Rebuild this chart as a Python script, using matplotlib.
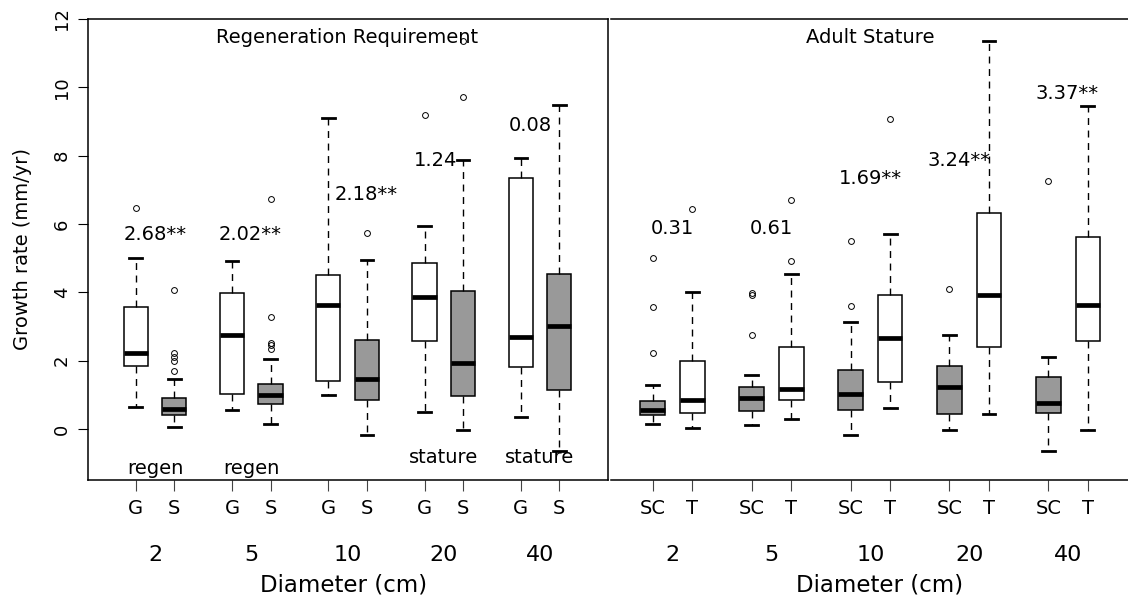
import matplotlib.pyplot as plt

# diameter classes (cm)
diam = ["2", "5", "10", "20", "40"]

# Regeneration requirement: G (white) and S (grey)
g_med = [2.23, 2.75, 3.62, 3.86, 2.69]
g_q1 = [1.86, 1.02, 1.40, 2.58, 1.82]
g_q3 = [3.56, 3.97, 4.50, 4.85, 7.34]
g_lo = [0.64, 0.57, 1.00, 0.50, 0.34]
g_hi = [5.01, 4.92, 9.09, 5.95, 7.94]
g_out = [[6.47], [], [], [9.18], []]

s_med = [0.60, 1.01, 1.47, 1.94, 3.02]
s_q1 = [0.42, 0.73, 0.85, 0.98, 1.14]
s_q3 = [0.91, 1.32, 2.60, 4.04, 4.53]
s_lo = [0.05, 0.15, -0.18, -0.03, -0.63]
s_hi = [1.47, 2.06, 4.95, 7.86, 9.47]
s_out = [[4.06, 2.24, 2.12, 1.99, 1.71], [6.73, 3.29, 2.53, 2.45, 2.34],
         [5.73], [11.36, 9.73], []]

# Adult stature: SC (grey) and T (white)
sc_med = [0.57, 0.92, 1.04, 1.22, 0.77]
sc_q1 = [0.40, 0.53, 0.55, 0.45, 0.47]
sc_q3 = [0.82, 1.22, 1.73, 1.84, 1.53]
sc_lo = [0.16, 0.13, -0.18, -0.03, -0.65]
sc_hi = [1.30, 1.59, 3.13, 2.76, 2.12]
sc_out = [[5.02, 3.56, 2.24], [3.98, 3.91, 2.76], [5.50, 3.61], [4.11], [7.25]]

t_med = [0.86, 1.16, 2.66, 3.93, 3.63]
t_q1 = [0.46, 0.86, 1.38, 2.39, 2.58]
t_q3 = [1.99, 2.41, 3.93, 6.33, 5.62]
t_lo = [0.04, 0.30, 0.63, 0.43, -0.03]
t_hi = [4.01, 4.53, 5.70, 11.36, 9.45]
t_out = [[6.44], [6.71, 4.92], [9.07], [], []]

# difference labels (text, x in group units, baseline y)
regen_lab = ["2.68**", "2.02**", "2.18**", "1.24", "0.08"]
regen_lab_x = [1.0, 1.99, 3.19, 3.91, 4.90]
regen_lab_y = [5.52, 5.52, 6.70, 7.71, 8.72]
stat_lab = ["0.31", "0.61", "1.69**", "3.24**", "3.37**"]
stat_lab_x = [1.0, 2.0, 3.0, 3.90, 4.99]
stat_lab_y = [5.71, 5.71, 7.17, 7.69, 9.66]

# which group the regen / stature wins
best = ["regen", "regen", "", "stature", "stature"]
best_y = [-1.32, -1.32, None, -1.0, -1.0]

GREY = "#999999"
FS = 14


def stats(med, q1, q3, lo, hi, out):
    return [dict(med=m, q1=a, q3=b, whislo=l, whishi=h, fliers=f)
            for m, a, b, l, h, f in zip(med, q1, q3, lo, hi, out)]


def draw(ax, st, pos, face):
    ax.bxp(st, positions=pos, widths=0.25, capwidths=0.13, patch_artist=True,
           boxprops=dict(facecolor=face, edgecolor="black", linewidth=1.1),
           medianprops=dict(color="black", linewidth=3.4),
           whiskerprops=dict(color="black", linewidth=1.0, linestyle=(0, (5, 4))),
           capprops=dict(color="black", linewidth=2.0),
           flierprops=dict(marker="o", markerfacecolor="none", markeredgecolor="black",
                           markersize=4.2, markeredgewidth=0.7),
           manage_ticks=False)


fig = plt.figure(figsize=(11.28, 6.02), dpi=100)
H = 461 / 602
B = 122 / 602
ax1 = fig.add_axes([88 / 1128, B, 520 / 1128, H])
ax2 = fig.add_axes([611 / 1128, B, 519 / 1128, H])

cent = list(range(1, len(diam) + 1))
left = [c - 0.2 for c in cent]
right = [c + 0.2 for c in cent]

draw(ax1, stats(g_med, g_q1, g_q3, g_lo, g_hi, g_out), left, "white")
draw(ax1, stats(s_med, s_q1, s_q3, s_lo, s_hi, s_out), right, GREY)
draw(ax2, stats(sc_med, sc_q1, sc_q3, sc_lo, sc_hi, sc_out), left, GREY)
draw(ax2, stats(t_med, t_q1, t_q3, t_lo, t_hi, t_out), right, "white")

ax1.set_xlim(0.304, 5.706)
ax2.set_xlim(0.378, 5.626)
for ax in (ax1, ax2):
    ax.set_ylim(-1.49, 12.0)
    ax.tick_params(axis="x", length=8, pad=5.5, labelsize=FS, color="#444444")
    for sp in ax.spines.values():
        sp.set_linewidth(1.1)

ax1.set_xticks(left + right)
ax1.set_xticklabels(["G"] * 5 + ["S"] * 5)
ax2.set_xticks(left + right)
ax2.set_xticklabels(["SC"] * 5 + ["T"] * 5)

ax1.set_yticks(range(0, 13, 2))
ax1.tick_params(axis="y", length=7.2, pad=5, labelsize=13, labelrotation=90)
for lab in ax1.get_yticklabels():
    lab.set_va("center")
ax2.set_yticks([])
ax2.spines["left"].set_visible(False)
ax2.spines["right"].set_visible(False)

# panel titles
ax1.text(3.0, 11.3, "Regeneration Requirement", ha="center", va="baseline", fontsize=FS)
ax2.text(3.0, 11.3, "Adult Stature", ha="center", va="baseline", fontsize=FS)

for x, y, s in zip(regen_lab_x, regen_lab_y, regen_lab):
    ax1.text(x, y, s, ha="center", va="baseline", fontsize=FS)
for x, y, s in zip(stat_lab_x, stat_lab_y, stat_lab):
    ax2.text(x, y, s, ha="center", va="baseline", fontsize=FS)
for c, s, y in zip(cent, best, best_y):
    if s:
        ax1.text(c, y, s, ha="center", va="baseline", fontsize=FS)

# diameter class labels under the G/S ticks
for ax, xl in ((ax1, 2.96), (ax2, 3.09)):
    tr = ax.get_xaxis_transform()
    for c, d in zip(cent, diam):
        ax.text(c, -0.1627, d, ha="center", va="center", fontsize=16, transform=tr)
    ax.text(xl, -0.2278, "Diameter (cm)", ha="center", va="center", fontsize=16.5,
            transform=tr)

fig.text(23 / 1128, 0.5 * (19 + 480) / 602 * 0 + (602 - 249.5) / 602,
         "Growth rate (mm/yr)", rotation=90, ha="center", va="center", fontsize=14)

fig.savefig("out.png", dpi=100)
